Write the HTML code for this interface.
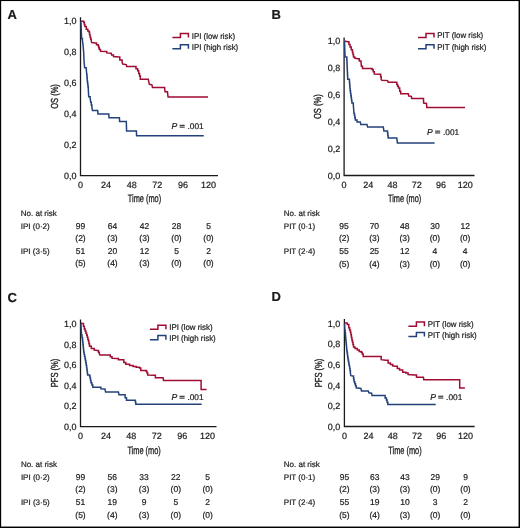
<!DOCTYPE html>
<html><head><meta charset="utf-8"><style>
html,body{margin:0;padding:0;background:#fff;}
body{width:520px;height:528px;overflow:hidden;}
svg{display:block;will-change:transform;font-family:"Liberation Sans",sans-serif;}
text{fill:#1a1a1a;stroke:#1a1a1a;stroke-width:0.2px;text-rendering:geometricPrecision;}
text.c{stroke-width:0.3px;}
</style></head><body>
<svg width="520" height="528" viewBox="0 0 520 528">
<rect x="0" y="0" width="520" height="528" fill="#fff"/>
<path d="M80.50,17.20 V175.70 H218.00" fill="none" stroke="#1a1a1a" stroke-width="1.3"/>
<text x="76.60" y="178.94" font-size="9.0" text-anchor="end" >0,0</text>
<text x="76.60" y="147.94" font-size="9.0" text-anchor="end" >0,2</text>
<text x="76.60" y="116.94" font-size="9.0" text-anchor="end" >0,4</text>
<text x="76.60" y="85.94" font-size="9.0" text-anchor="end" >0,6</text>
<text x="76.60" y="54.94" font-size="9.0" text-anchor="end" >0,8</text>
<text x="76.60" y="23.94" font-size="9.0" text-anchor="end" >1,0</text>
<text x="80.50" y="187.90" font-size="9.0" text-anchor="middle" >0</text>
<text x="106.10" y="187.90" font-size="9.0" text-anchor="middle" >24</text>
<text x="131.70" y="187.90" font-size="9.0" text-anchor="middle" >48</text>
<text x="157.30" y="187.90" font-size="9.0" text-anchor="middle" >72</text>
<text x="182.90" y="187.90" font-size="9.0" text-anchor="middle" >96</text>
<text x="208.50" y="187.90" font-size="9.0" text-anchor="middle" >120</text>
<text class="c" transform="translate(144.50,202.20) scale(0.69,1)" font-size="10.7" text-anchor="middle">Time (mo)</text>
<text class="c" transform="translate(57.60,96.50) rotate(-90) scale(0.74,1)" font-size="10.2" text-anchor="middle">OS (%)</text>
<polyline points="172.40,37.60 180.40,37.60 180.40,33.50 188.40,33.50 188.40,37.60" fill="none" stroke="#a00d33" stroke-width="1.5" stroke-linejoin="miter"/>
<text transform="translate(191.70,38.50) scale(0.965,1)" font-size="8.2">IPI (low risk)</text>
<polyline points="172.40,48.80 180.40,48.80 180.40,44.70 188.40,44.70 188.40,48.80" fill="none" stroke="#22427a" stroke-width="1.5" stroke-linejoin="miter"/>
<text transform="translate(191.70,49.70) scale(0.965,1)" font-size="8.2">IPI (high risk)</text>
<g transform="translate(203.20,128.80)"><text x="-31.6" y="0" font-size="8.6" font-style="italic">P</text><rect x="-23.6" y="-4.0" width="5.1" height="1.05" fill="#222"/><rect x="-23.6" y="-2.2" width="5.1" height="1.05" fill="#222"/><text x="0.45" y="0" font-size="8.3" text-anchor="end">.001</text></g>
<polyline points="80.90,21.20 83.80,21.20 83.80,22.60 84.35,22.60 84.35,24.50 84.90,24.50 84.90,26.40 86.30,26.40 86.30,29.20 87.80,29.20 87.80,31.00 89.00,31.00 89.00,32.10 89.55,32.10 89.55,34.70 90.10,34.70 90.10,37.30 90.70,37.30 90.70,39.35 91.30,39.35 91.30,41.40 91.80,42.50 95.30,43.10 96.50,43.10 96.50,44.80 98.20,44.80 98.20,46.00 98.75,46.00 98.75,47.70 99.30,47.70 99.30,49.40 100.50,49.40 100.50,51.20 105.70,51.40 106.80,51.40 106.80,52.90 111.20,53.20 111.60,55.00 113.50,55.00 113.50,56.60 118.70,57.10 119.80,57.10 119.80,60.00 122.10,60.00 122.10,62.30 122.70,64.10 126.20,64.60 126.70,66.40 134.50,66.40 136.00,66.40 136.00,68.70 137.70,68.70 137.70,70.80 138.70,70.80 138.70,73.50 139.60,73.50 139.60,75.90 140.30,75.90 140.30,79.20 148.30,79.20 148.80,82.10 149.40,84.30 151.90,84.80 152.50,87.50 164.60,87.50 165.00,91.70 167.50,91.70 167.50,92.70 168.10,96.90 208.00,96.90" fill="none" stroke="#a00d33" stroke-width="1.5" stroke-linejoin="miter"/>
<polyline points="80.90,21.20 81.60,38.40 82.40,38.40 82.40,40.20 83.10,45.70 83.70,52.90 84.00,60.40 84.60,67.70 86.20,67.70 86.20,68.60 86.70,74.00 86.88,74.00 86.88,76.05 87.05,76.05 87.05,78.10 87.23,78.10 87.23,80.15 87.40,80.15 87.40,82.20 87.70,82.20 87.70,84.60 88.00,84.60 88.00,87.00 88.30,87.00 88.30,89.40 88.70,96.80 90.10,96.80 90.10,97.70 90.70,102.20 91.30,102.20 91.30,104.95 91.90,104.95 91.90,107.70 92.50,110.60 97.70,110.60 97.95,114.00 108.80,114.00 109.00,117.70 119.40,117.70 119.60,121.50 126.30,121.50 126.60,131.10 136.40,131.10 136.60,135.70 203.80,135.70" fill="none" stroke="#22427a" stroke-width="1.5" stroke-linejoin="miter"/>
<text x="20.80" y="215.80" font-size="8.0" text-anchor="start" >No. at risk</text>
<text x="20.80" y="228.50" font-size="8.0" text-anchor="start" >IPI (0·2)</text>
<text x="20.80" y="253.90" font-size="8.0" text-anchor="start" >IPI (3·5)</text>
<text x="80.50" y="228.50" font-size="8.5" text-anchor="middle" >99</text>
<text x="112.50" y="228.50" font-size="8.5" text-anchor="middle" >64</text>
<text x="144.50" y="228.50" font-size="8.5" text-anchor="middle" >42</text>
<text x="176.50" y="228.50" font-size="8.5" text-anchor="middle" >28</text>
<text x="208.50" y="228.50" font-size="8.5" text-anchor="middle" >5</text>
<text x="80.50" y="240.90" font-size="8.5" text-anchor="middle" >(2)</text>
<text x="112.50" y="240.90" font-size="8.5" text-anchor="middle" >(3)</text>
<text x="144.50" y="240.90" font-size="8.5" text-anchor="middle" >(3)</text>
<text x="176.50" y="240.90" font-size="8.5" text-anchor="middle" >(0)</text>
<text x="208.50" y="240.90" font-size="8.5" text-anchor="middle" >(0)</text>
<text x="80.50" y="253.90" font-size="8.5" text-anchor="middle" >51</text>
<text x="112.50" y="253.90" font-size="8.5" text-anchor="middle" >20</text>
<text x="144.50" y="253.90" font-size="8.5" text-anchor="middle" >12</text>
<text x="176.50" y="253.90" font-size="8.5" text-anchor="middle" >5</text>
<text x="208.50" y="253.90" font-size="8.5" text-anchor="middle" >2</text>
<text x="80.50" y="266.30" font-size="8.5" text-anchor="middle" >(5)</text>
<text x="112.50" y="266.30" font-size="8.5" text-anchor="middle" >(4)</text>
<text x="144.50" y="266.30" font-size="8.5" text-anchor="middle" >(3)</text>
<text x="176.50" y="266.30" font-size="8.5" text-anchor="middle" >(0)</text>
<text x="208.50" y="266.30" font-size="8.5" text-anchor="middle" >(0)</text>
<text x="7.6" y="18.8" font-size="13" font-weight="bold">A</text>
<path d="M344.10,37.50 V175.50 H474.50" fill="none" stroke="#1a1a1a" stroke-width="1.3"/>
<text x="340.20" y="178.74" font-size="9.0" text-anchor="end" >0,0</text>
<text x="340.20" y="151.88" font-size="9.0" text-anchor="end" >0,2</text>
<text x="340.20" y="125.02" font-size="9.0" text-anchor="end" >0,4</text>
<text x="340.20" y="98.16" font-size="9.0" text-anchor="end" >0,6</text>
<text x="340.20" y="71.30" font-size="9.0" text-anchor="end" >0,8</text>
<text x="340.20" y="44.44" font-size="9.0" text-anchor="end" >1,0</text>
<text x="344.10" y="187.90" font-size="9.0" text-anchor="middle" >0</text>
<text x="368.32" y="187.90" font-size="9.0" text-anchor="middle" >24</text>
<text x="392.54" y="187.90" font-size="9.0" text-anchor="middle" >48</text>
<text x="416.76" y="187.90" font-size="9.0" text-anchor="middle" >72</text>
<text x="440.98" y="187.90" font-size="9.0" text-anchor="middle" >96</text>
<text x="465.20" y="187.90" font-size="9.0" text-anchor="middle" >120</text>
<text class="c" transform="translate(404.65,202.20) scale(0.69,1)" font-size="10.7" text-anchor="middle">Time (mo)</text>
<text class="c" transform="translate(321.30,106.70) rotate(-90) scale(0.74,1)" font-size="10.2" text-anchor="middle">OS (%)</text>
<polyline points="418.00,37.50 426.00,37.50 426.00,33.40 434.00,33.40 434.00,37.50" fill="none" stroke="#a00d33" stroke-width="1.5" stroke-linejoin="miter"/>
<text transform="translate(437.30,38.40) scale(0.965,1)" font-size="8.2">PIT (low risk)</text>
<polyline points="418.00,48.80 426.00,48.80 426.00,44.70 434.00,44.70 434.00,48.80" fill="none" stroke="#22427a" stroke-width="1.5" stroke-linejoin="miter"/>
<text transform="translate(437.30,49.70) scale(0.965,1)" font-size="8.2">PIT (high risk)</text>
<g transform="translate(458.70,134.60)"><text x="-31.6" y="0" font-size="8.6" font-style="italic">P</text><rect x="-23.6" y="-4.0" width="5.1" height="1.05" fill="#222"/><rect x="-23.6" y="-2.2" width="5.1" height="1.05" fill="#222"/><text x="0.45" y="0" font-size="8.3" text-anchor="end">.001</text></g>
<polyline points="344.50,40.80 345.50,41.30 347.80,41.70 348.95,41.70 348.95,44.40 350.10,44.40 350.10,47.10 351.25,47.10 351.25,49.70 352.40,49.70 352.40,52.30 352.95,52.30 352.95,54.60 353.50,54.60 353.50,56.90 354.70,56.90 354.70,58.10 357.60,58.70 359.30,58.70 359.30,61.00 361.00,61.00 361.00,62.10 361.40,66.20 362.50,66.20 362.50,68.50 370.30,68.50 372.00,68.50 372.00,69.60 373.20,69.60 373.20,71.70 374.30,71.70 374.30,74.00 380.10,74.20 380.65,74.20 380.65,76.80 381.20,76.80 381.20,79.40 381.80,80.20 387.60,80.60 388.20,82.30 395.10,82.30 396.80,82.30 396.80,84.60 397.65,84.60 397.65,86.35 398.50,86.35 398.50,88.10 399.70,88.10 399.70,91.20 400.70,91.20 400.70,93.80 408.30,93.80 408.80,96.00 411.40,96.30 411.60,98.60 423.50,98.60 423.60,103.10 426.50,103.40 426.80,107.40 465.00,107.40" fill="none" stroke="#a00d33" stroke-width="1.5" stroke-linejoin="miter"/>
<polyline points="344.50,41.50 345.10,57.00 346.80,57.00 346.80,59.60 346.90,59.60 346.90,61.78 347.00,61.78 347.00,63.96 347.10,63.96 347.10,66.13 347.20,66.13 347.20,68.31 347.30,68.31 347.30,70.49 347.40,70.49 347.40,72.67 347.50,72.67 347.50,74.84 347.60,74.84 347.60,77.02 347.70,77.02 347.70,79.20 349.40,79.20 349.40,81.70 349.60,81.70 349.60,84.05 349.80,84.05 349.80,86.40 350.00,86.40 350.00,88.75 350.20,88.75 350.20,91.10 350.54,91.10 350.54,93.48 350.88,93.48 350.88,95.86 351.22,95.86 351.22,98.24 351.56,98.24 351.56,100.62 351.90,100.62 351.90,103.00 353.30,103.00 353.30,104.70 354.00,113.30 354.43,113.30 354.43,115.53 354.87,115.53 354.87,117.77 355.30,117.77 355.30,120.00 357.00,120.00 357.00,121.90 360.30,121.90 360.80,124.60 367.00,124.60 367.60,127.10 383.30,127.10 383.90,131.00 387.20,131.00 387.53,131.00 387.53,133.37 387.87,133.37 387.87,135.73 388.20,135.73 388.20,138.10 396.80,138.10 397.40,143.00 434.60,143.00" fill="none" stroke="#22427a" stroke-width="1.5" stroke-linejoin="miter"/>
<text x="283.80" y="216.30" font-size="8.0" text-anchor="start" >No. at risk</text>
<text x="283.80" y="229.00" font-size="8.0" text-anchor="start" >PIT (0·1)</text>
<text x="283.80" y="254.40" font-size="8.0" text-anchor="start" >PIT (2·4)</text>
<text x="344.10" y="229.00" font-size="8.5" text-anchor="middle" >95</text>
<text x="374.38" y="229.00" font-size="8.5" text-anchor="middle" >70</text>
<text x="404.65" y="229.00" font-size="8.5" text-anchor="middle" >48</text>
<text x="434.93" y="229.00" font-size="8.5" text-anchor="middle" >30</text>
<text x="465.20" y="229.00" font-size="8.5" text-anchor="middle" >12</text>
<text x="344.10" y="241.40" font-size="8.5" text-anchor="middle" >(2)</text>
<text x="374.38" y="241.40" font-size="8.5" text-anchor="middle" >(3)</text>
<text x="404.65" y="241.40" font-size="8.5" text-anchor="middle" >(3)</text>
<text x="434.93" y="241.40" font-size="8.5" text-anchor="middle" >(0)</text>
<text x="465.20" y="241.40" font-size="8.5" text-anchor="middle" >(0)</text>
<text x="344.10" y="254.40" font-size="8.5" text-anchor="middle" >55</text>
<text x="374.38" y="254.40" font-size="8.5" text-anchor="middle" >25</text>
<text x="404.65" y="254.40" font-size="8.5" text-anchor="middle" >12</text>
<text x="434.93" y="254.40" font-size="8.5" text-anchor="middle" >4</text>
<text x="465.20" y="254.40" font-size="8.5" text-anchor="middle" >4</text>
<text x="344.10" y="266.80" font-size="8.5" text-anchor="middle" >(5)</text>
<text x="374.38" y="266.80" font-size="8.5" text-anchor="middle" >(4)</text>
<text x="404.65" y="266.80" font-size="8.5" text-anchor="middle" >(3)</text>
<text x="434.93" y="266.80" font-size="8.5" text-anchor="middle" >(0)</text>
<text x="465.20" y="266.80" font-size="8.5" text-anchor="middle" >(0)</text>
<text x="271.5" y="18.8" font-size="13" font-weight="bold">B</text>
<path d="M80.50,319.40 V426.60 H216.50" fill="none" stroke="#1a1a1a" stroke-width="1.3"/>
<text x="76.60" y="429.84" font-size="9.0" text-anchor="end" >0,0</text>
<text x="76.60" y="409.28" font-size="9.0" text-anchor="end" >0,2</text>
<text x="76.60" y="388.72" font-size="9.0" text-anchor="end" >0,4</text>
<text x="76.60" y="368.16" font-size="9.0" text-anchor="end" >0,6</text>
<text x="76.60" y="347.60" font-size="9.0" text-anchor="end" >0,8</text>
<text x="76.60" y="327.04" font-size="9.0" text-anchor="end" >1,0</text>
<text x="80.50" y="438.90" font-size="9.0" text-anchor="middle" >0</text>
<text x="105.92" y="438.90" font-size="9.0" text-anchor="middle" >24</text>
<text x="131.34" y="438.90" font-size="9.0" text-anchor="middle" >48</text>
<text x="156.76" y="438.90" font-size="9.0" text-anchor="middle" >72</text>
<text x="182.18" y="438.90" font-size="9.0" text-anchor="middle" >96</text>
<text x="207.60" y="438.90" font-size="9.0" text-anchor="middle" >120</text>
<text class="c" transform="translate(144.05,453.50) scale(0.69,1)" font-size="10.7" text-anchor="middle">Time (mo)</text>
<text class="c" transform="translate(57.60,373.00) rotate(-90) scale(0.74,1)" font-size="10.2" text-anchor="middle">PFS (%)</text>
<polyline points="149.90,329.30 157.90,329.30 157.90,325.20 165.90,325.20 165.90,329.30" fill="none" stroke="#a00d33" stroke-width="1.5" stroke-linejoin="miter"/>
<text transform="translate(169.20,330.20) scale(0.965,1)" font-size="8.2">IPI (low risk)</text>
<polyline points="149.90,339.70 157.90,339.70 157.90,335.60 165.90,335.60 165.90,339.70" fill="none" stroke="#22427a" stroke-width="1.5" stroke-linejoin="miter"/>
<text transform="translate(169.20,340.60) scale(0.965,1)" font-size="8.2">IPI (high risk)</text>
<g transform="translate(203.10,399.80)"><text x="-31.6" y="0" font-size="8.6" font-style="italic">P</text><rect x="-23.6" y="-4.0" width="5.1" height="1.05" fill="#222"/><rect x="-23.6" y="-2.2" width="5.1" height="1.05" fill="#222"/><text x="0.45" y="0" font-size="8.3" text-anchor="end">.001</text></g>
<polyline points="80.90,323.20 82.60,323.50 83.45,323.50 83.45,326.25 84.30,326.25 84.30,329.00 85.10,329.00 85.10,331.10 85.90,331.10 85.90,333.20 86.70,333.20 86.70,335.30 87.27,335.30 87.27,337.23 87.83,337.23 87.83,339.17 88.40,339.17 88.40,341.10 88.95,341.10 88.95,343.70 89.50,343.70 89.50,346.30 91.30,346.30 91.30,348.60 94.20,348.60 94.20,350.10 97.60,350.50 98.45,350.50 98.45,352.15 99.30,352.15 99.30,353.80 99.90,354.90 108.60,354.90 110.30,354.90 110.30,356.70 112.00,356.70 112.00,358.20 117.20,358.40 118.40,358.40 118.40,359.80 121.80,359.80 123.80,359.80 123.80,362.60 125.80,362.60 125.80,364.20 129.60,364.20 129.60,365.60 133.10,365.60 133.10,366.50 136.20,366.50 136.20,367.30 139.50,367.30 139.50,368.10 140.80,368.10 140.80,370.40 146.20,370.40 146.20,371.20 146.95,371.20 146.95,373.10 147.70,373.10 147.70,375.00 154.60,375.30 155.40,375.30 155.40,377.80 163.10,377.80 163.50,380.40 201.10,380.40 201.10,389.60 206.60,389.60" fill="none" stroke="#a00d33" stroke-width="1.5" stroke-linejoin="miter"/>
<polyline points="80.90,323.80 81.50,335.00 82.00,335.00 82.00,337.55 82.50,337.55 82.50,340.10 82.74,340.10 82.74,342.48 82.98,342.48 82.98,344.86 83.22,344.86 83.22,347.24 83.46,347.24 83.46,349.62 83.70,349.62 83.70,352.00 84.12,352.00 84.12,354.15 84.55,354.15 84.55,356.30 84.98,356.30 84.98,358.45 85.40,358.45 85.40,360.60 85.80,360.60 85.80,362.87 86.20,362.87 86.20,365.13 86.60,365.13 86.60,367.40 86.85,367.40 86.85,369.32 87.10,369.32 87.10,371.25 87.35,371.25 87.35,373.18 87.60,373.18 87.60,375.10 89.60,375.10 89.60,376.00 90.07,376.00 90.07,378.23 90.53,378.23 90.53,380.47 91.00,380.47 91.00,382.70 91.90,382.70 91.90,385.00 92.80,385.00 92.80,387.30 100.20,387.30 100.90,387.30 100.90,388.70 104.90,388.90 105.60,391.90 118.40,391.90 119.00,394.70 124.30,394.70 125.10,394.70 125.10,397.70 126.50,397.70 126.50,400.30 135.00,400.30 135.40,400.30 135.40,402.25 135.80,402.25 135.80,404.20 201.70,404.20" fill="none" stroke="#22427a" stroke-width="1.5" stroke-linejoin="miter"/>
<text x="20.90" y="467.20" font-size="8.0" text-anchor="start" >No. at risk</text>
<text x="20.90" y="479.90" font-size="8.0" text-anchor="start" >IPI (0·2)</text>
<text x="20.90" y="505.30" font-size="8.0" text-anchor="start" >IPI (3·5)</text>
<text x="80.50" y="479.90" font-size="8.5" text-anchor="middle" >99</text>
<text x="112.28" y="479.90" font-size="8.5" text-anchor="middle" >56</text>
<text x="144.05" y="479.90" font-size="8.5" text-anchor="middle" >33</text>
<text x="175.82" y="479.90" font-size="8.5" text-anchor="middle" >22</text>
<text x="207.60" y="479.90" font-size="8.5" text-anchor="middle" >5</text>
<text x="80.50" y="492.30" font-size="8.5" text-anchor="middle" >(2)</text>
<text x="112.28" y="492.30" font-size="8.5" text-anchor="middle" >(3)</text>
<text x="144.05" y="492.30" font-size="8.5" text-anchor="middle" >(3)</text>
<text x="175.82" y="492.30" font-size="8.5" text-anchor="middle" >(0)</text>
<text x="207.60" y="492.30" font-size="8.5" text-anchor="middle" >(0)</text>
<text x="80.50" y="505.30" font-size="8.5" text-anchor="middle" >51</text>
<text x="112.28" y="505.30" font-size="8.5" text-anchor="middle" >19</text>
<text x="144.05" y="505.30" font-size="8.5" text-anchor="middle" >9</text>
<text x="175.82" y="505.30" font-size="8.5" text-anchor="middle" >5</text>
<text x="207.60" y="505.30" font-size="8.5" text-anchor="middle" >2</text>
<text x="80.50" y="517.70" font-size="8.5" text-anchor="middle" >(5)</text>
<text x="112.28" y="517.70" font-size="8.5" text-anchor="middle" >(4)</text>
<text x="144.05" y="517.70" font-size="8.5" text-anchor="middle" >(3)</text>
<text x="175.82" y="517.70" font-size="8.5" text-anchor="middle" >(0)</text>
<text x="207.60" y="517.70" font-size="8.5" text-anchor="middle" >(0)</text>
<text x="7.6" y="301.9" font-size="13" font-weight="bold">C</text>
<path d="M344.40,319.10 V426.50 H474.60" fill="none" stroke="#1a1a1a" stroke-width="1.3"/>
<text x="340.20" y="429.74" font-size="9.0" text-anchor="end" >0,0</text>
<text x="340.20" y="409.14" font-size="9.0" text-anchor="end" >0,2</text>
<text x="340.20" y="388.54" font-size="9.0" text-anchor="end" >0,4</text>
<text x="340.20" y="367.94" font-size="9.0" text-anchor="end" >0,6</text>
<text x="340.20" y="347.34" font-size="9.0" text-anchor="end" >0,8</text>
<text x="340.20" y="326.74" font-size="9.0" text-anchor="end" >1,0</text>
<text x="344.40" y="438.90" font-size="9.0" text-anchor="middle" >0</text>
<text x="368.62" y="438.90" font-size="9.0" text-anchor="middle" >24</text>
<text x="392.84" y="438.90" font-size="9.0" text-anchor="middle" >48</text>
<text x="417.06" y="438.90" font-size="9.0" text-anchor="middle" >72</text>
<text x="441.28" y="438.90" font-size="9.0" text-anchor="middle" >96</text>
<text x="465.50" y="438.90" font-size="9.0" text-anchor="middle" >120</text>
<text class="c" transform="translate(404.95,453.50) scale(0.69,1)" font-size="10.7" text-anchor="middle">Time (mo)</text>
<text class="c" transform="translate(321.50,373.00) rotate(-90) scale(0.74,1)" font-size="10.2" text-anchor="middle">PFS (%)</text>
<polyline points="408.40,326.20 416.40,326.20 416.40,322.10 424.40,322.10 424.40,326.20" fill="none" stroke="#a00d33" stroke-width="1.5" stroke-linejoin="miter"/>
<text transform="translate(427.70,327.10) scale(0.965,1)" font-size="8.2">PIT (low risk)</text>
<polyline points="408.40,336.60 416.40,336.60 416.40,332.50 424.40,332.50 424.40,336.60" fill="none" stroke="#22427a" stroke-width="1.5" stroke-linejoin="miter"/>
<text transform="translate(427.70,337.50) scale(0.965,1)" font-size="8.2">PIT (high risk)</text>
<g transform="translate(461.80,399.70)"><text x="-31.6" y="0" font-size="8.6" font-style="italic">P</text><rect x="-23.6" y="-4.0" width="5.1" height="1.05" fill="#222"/><rect x="-23.6" y="-2.2" width="5.1" height="1.05" fill="#222"/><text x="0.45" y="0" font-size="8.3" text-anchor="end">.001</text></g>
<polyline points="344.50,323.00 347.30,323.00 347.30,324.60 348.80,324.60 348.80,327.70 349.60,327.70 349.60,330.00 350.40,330.00 350.40,332.30 350.90,332.30 350.90,334.87 351.40,334.87 351.40,337.43 351.90,337.43 351.90,340.00 352.43,340.00 352.43,342.30 352.97,342.30 352.97,344.60 353.50,344.60 353.50,346.90 355.00,346.90 355.00,348.50 357.30,348.50 357.30,350.00 359.20,350.00 359.20,351.50 361.20,351.50 361.20,352.30 362.20,352.30 362.20,354.10 363.20,354.10 363.20,356.60 379.60,356.60 381.20,356.60 381.20,359.70 385.80,360.30 388.10,360.30 388.10,363.10 390.40,363.10 390.40,364.60 392.70,364.60 392.70,365.80 395.00,366.20 397.30,366.20 397.30,368.50 399.60,368.50 399.60,370.00 402.70,370.00 402.70,372.30 405.80,372.30 405.80,373.10 408.10,373.10 408.10,374.60 415.00,375.10 416.50,375.10 416.50,377.20 423.40,377.20 423.80,379.70 459.70,379.70 459.70,388.00 464.90,388.00" fill="none" stroke="#a00d33" stroke-width="1.5" stroke-linejoin="miter"/>
<polyline points="344.50,323.50 345.00,330.80 345.20,330.80 345.20,333.10 345.40,333.10 345.40,335.40 345.60,335.40 345.60,337.70 345.80,337.70 345.80,340.00 346.00,340.00 346.00,342.16 346.20,342.16 346.20,344.32 346.40,344.32 346.40,346.48 346.60,346.48 346.60,348.64 346.80,348.64 346.80,350.80 347.12,350.80 347.12,353.10 347.45,353.10 347.45,355.40 347.78,355.40 347.78,357.70 348.10,357.70 348.10,360.00 348.50,360.00 348.50,362.07 348.90,362.07 348.90,364.13 349.30,364.13 349.30,366.20 349.67,366.20 349.67,368.50 350.03,368.50 350.03,370.80 350.40,370.80 350.40,373.10 350.80,375.70 353.20,376.10 353.50,376.10 353.50,377.97 353.80,377.97 353.80,379.83 354.10,379.83 354.10,381.70 354.80,381.70 354.80,383.73 355.50,383.73 355.50,385.77 356.20,385.77 356.20,387.80 360.90,388.50 361.50,390.90 368.30,390.90 368.90,392.80 371.60,393.20 372.00,395.40 384.10,395.40 385.10,395.40 385.10,398.10 386.40,398.10 386.40,399.90 387.10,399.90 387.10,402.25 387.80,402.25 387.80,404.60 435.70,404.60" fill="none" stroke="#22427a" stroke-width="1.5" stroke-linejoin="miter"/>
<text x="283.80" y="467.30" font-size="8.0" text-anchor="start" >No. at risk</text>
<text x="283.80" y="480.00" font-size="8.0" text-anchor="start" >PIT (0·1)</text>
<text x="283.80" y="505.40" font-size="8.0" text-anchor="start" >PIT (2·4)</text>
<text x="344.40" y="480.00" font-size="8.5" text-anchor="middle" >95</text>
<text x="374.67" y="480.00" font-size="8.5" text-anchor="middle" >63</text>
<text x="404.95" y="480.00" font-size="8.5" text-anchor="middle" >43</text>
<text x="435.22" y="480.00" font-size="8.5" text-anchor="middle" >29</text>
<text x="465.50" y="480.00" font-size="8.5" text-anchor="middle" >9</text>
<text x="344.40" y="492.40" font-size="8.5" text-anchor="middle" >(2)</text>
<text x="374.67" y="492.40" font-size="8.5" text-anchor="middle" >(3)</text>
<text x="404.95" y="492.40" font-size="8.5" text-anchor="middle" >(3)</text>
<text x="435.22" y="492.40" font-size="8.5" text-anchor="middle" >(0)</text>
<text x="465.50" y="492.40" font-size="8.5" text-anchor="middle" >(0)</text>
<text x="344.40" y="505.40" font-size="8.5" text-anchor="middle" >55</text>
<text x="374.67" y="505.40" font-size="8.5" text-anchor="middle" >19</text>
<text x="404.95" y="505.40" font-size="8.5" text-anchor="middle" >10</text>
<text x="435.22" y="505.40" font-size="8.5" text-anchor="middle" >3</text>
<text x="465.50" y="505.40" font-size="8.5" text-anchor="middle" >2</text>
<text x="344.40" y="517.80" font-size="8.5" text-anchor="middle" >(5)</text>
<text x="374.67" y="517.80" font-size="8.5" text-anchor="middle" >(4)</text>
<text x="404.95" y="517.80" font-size="8.5" text-anchor="middle" >(3)</text>
<text x="435.22" y="517.80" font-size="8.5" text-anchor="middle" >(0)</text>
<text x="465.50" y="517.80" font-size="8.5" text-anchor="middle" >(0)</text>
<text x="271.5" y="301.3" font-size="13" font-weight="bold">D</text>
<rect x="0" y="0" width="1.15" height="528" fill="#000"/><rect x="0" y="0" width="520" height="1.05" fill="#000"/><rect x="518.55" y="0" width="1.45" height="528" fill="#000"/><rect x="0" y="526.55" width="520" height="1.45" fill="#000"/>
</svg>
</body></html>
